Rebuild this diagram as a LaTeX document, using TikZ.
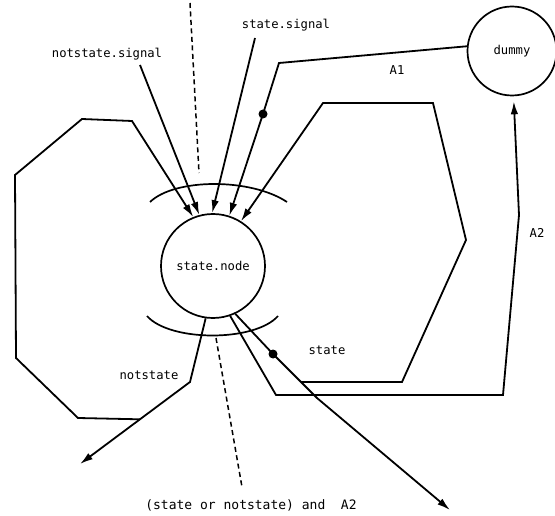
\documentclass[tikz,border=0pt]{standalone}
\usepackage{fontspec}
\newfontfamily\lblfont{DejaVu Sans Mono}
\usetikzlibrary{arrows.meta,calc}
\tikzset{
  ln/.style={line width=1.8pt, line join=miter},
  arr/.style={ln, -{Latex[length=13pt,width=7.5pt]}},
  circ/.style={circle, draw, line width=1.7pt, inner sep=0pt},
  lbl/.style={font=\lblfont\fontsize{12.2}{14}\selectfont, inner sep=1pt},
  dot/.style={circle, fill=black, inner sep=0pt, minimum size=9pt},
  dsh/.style={line width=1.5pt, dash pattern=on 5pt off 3.5pt}
}
\begin{document}
\begin{tikzpicture}[x=1pt,y=-1pt]
\useasboundingbox (0,0) rectangle (555,516);
% nodes
\node[circ, minimum size=104pt, lbl] (S) at (213,266) {state.node};
\node[circ, minimum size=89pt, lbl] (D) at (512,51) {dummy};
% labels
\node[lbl] (lns) at (107,54) {notstate.signal};
\node[lbl] (lss) at (286,25) {state.signal};
\node[lbl] (la1) at (397,70) {A1};
\node[lbl] (la2) at (537,233) {A2};
\node[lbl] (lst) at (327,350) {state};
\node[lbl] (lnst) at (149,375) {notstate};
\node[lbl, font=\lblfont\fontsize{13}{15}\selectfont] (lbot) at (251,505) {(state or notstate) and\ \ A2};
% arcs
\draw[line width=1.7pt] (150,202) .. controls (175,178) and (251,178) .. (287,202);
\draw[line width=1.7pt] (147,316) .. controls (170,342) and (255,342) .. (278,316);
% dashed
\coordinate (dt1) at (190,3);
\coordinate (dt2) at (199,173);
\draw[dsh] (dt1) -- (dt2);
\coordinate (db1) at (216,338);
\coordinate (db2) at (242,487);
\draw[dsh] (db1) -- (db2);
% signal arrows
\coordinate (ns0) at (140,65);
\draw[arr] (ns0) -- (S.105);
\coordinate (ss0) at (255,38);
\draw[arr] (ss0) -- (S.91);
% A1
\coordinate (a1b) at (279,63);
\node[dot] (a1dot) at (263,114) {};
\draw[arr] (D.174) -- (a1b) -- (a1dot.center) -- (S.72);
% notstate arrow and left loop
\coordinate (nb) at (190,382);
\coordinate (nt) at (80,464);
\draw[arr] (S.-98) -- (nb) -- (nt);
\coordinate (nj) at ($(nb)!0.455!(nt)$);
\draw[arr] (nj) -- (78,418) -- (16,358) -- (15,175) -- (82,119) -- (132,121) -- (S.112);
% state arrow and right loop
\node[dot] (sdot) at (273,354) {};
\coordinate (sb) at (317,398);
\coordinate (stip) at (450,510);
\draw[arr] (S.-65) -- (sdot.center) -- (sb) -- (stip);
\coordinate (sj) at (301,382);
\draw[arr] (sj) -- (402,382) -- (466,240) -- (433,103) -- (323,103) -- (S.58);
% A2
\draw[arr, shorten >=5pt] (S.-71) -- (276,395) -- (503,395) -- (519,215) -- (D.-88);
\end{tikzpicture}
\end{document}
